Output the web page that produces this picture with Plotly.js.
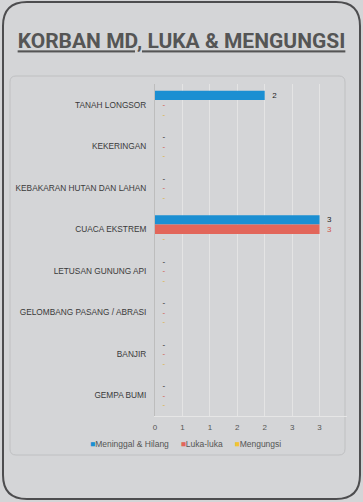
<!DOCTYPE html>
<html><head><meta charset="utf-8">
<script src="https://cdn.plot.ly/plotly-3.0.1.min.js"></script>
<style>html,body{margin:0;padding:0;background:#d4d5d7;overflow:hidden}#chart{width:363px;height:502px}</style>
</head><body><div id="chart"></div>
<script>
// ---- data ----
const categories = ["TANAH LONGSOR","KEKERINGAN","KEBAKARAN HUTAN DAN LAHAN","CUACA EKSTREM","LETUSAN GUNUNG API","GELOMBANG PASANG / ABRASI","BANJIR","GEMPA BUMI"];
const seriesNames = ["Meninggal & Hilang","Luka-luka","Mengungsi"];
const meninggalHilang = [2,0,0,3,0,0,0,0];
const lukaLuka = [0,0,0,3,0,0,0,0];
const mengungsi = [0,0,0,0,0,0,0,0];
const xTickVals = [0,0.5,1,1.5,2,2.5,3,3.5];
const xTickText = ["0","1","1","2","2","3","3",""];
const chartTitle = "KORBAN MD, LUKA & MENGUNGSI";

// ---- styles ----
const seriesColors = ["#1b8fd2","#e2665a","#f2c233"];
const labelColors = ["#222222","#d0564a","#dcb03c"];
const baseFont = 'Arial, "Liberation Sans", sans-serif';
const W = 363, H = 502;
const M = {l:155, r:16, t:84, b:86};
const PW = W - M.l - M.r, PH = H - M.t - M.b;
const px = x => (x - M.l) / PW;
const py = y => (H - M.b - y) / PH;

function roundRect(x0,y0,x1,y1,r){
  const P = (x,y) => px(x).toFixed(5)+','+py(y).toFixed(5);
  return 'M'+P(x0+r,y0)+' L'+P(x1-r,y0)+' Q'+P(x1,y0)+' '+P(x1,y0+r)+
         ' L'+P(x1,y1-r)+' Q'+P(x1,y1)+' '+P(x1-r,y1)+
         ' L'+P(x0+r,y1)+' Q'+P(x0,y1)+' '+P(x0,y1-r)+
         ' L'+P(x0,y0+r)+' Q'+P(x0,y0)+' '+P(x0+r,y0)+' Z';
}

const seriesValues = [meninggalHilang, lukaLuka, mengungsi];
const traces = seriesValues.map((vals,i) => ({
  type:'bar', orientation:'h', name: seriesNames[i],
  y: categories, x: vals,
  marker:{color: seriesColors[i], line:{width:0}},
  text: vals.map(v => '\u00a0\u00a0' + (v === 0 ? '-' : String(v))),
  textposition:'outside', constraintext:'none', cliponaxis:false,
  textfont:{family:baseFont, size:8, color: labelColors[i]},
  hoverinfo:'skip', showlegend:false
}));

const legendText = seriesNames.map((n,i) =>
  '<span style="color:'+seriesColors[i]+'">\u25A0</span>' + n).join('\u00a0\u00a0\u00a0\u00a0\u00a0');

const layout = {
  width:W, height:H, margin:M,
  paper_bgcolor:'#d4d5d7', plot_bgcolor:'rgba(0,0,0,0)',
  font:{family:baseFont, size:8, color:'#333'},
  title:{text:'<u>'+chartTitle+'</u>', x:0.5, xref:'container', xanchor:'center',
         y:1-41/H, yref:'container', yanchor:'middle',
         font:{family:'Roboto, sans-serif', size:21, weight:'bold', color:'#555555'}},
  barmode:'group', bargap:0.33, bargroupgap:0,
  xaxis:{range:[0,3.5], tickvals:xTickVals, ticktext:xTickText, showgrid:true, gridcolor:'#e4e4e4', gridwidth:1,
         zeroline:false, showline:true, linecolor:'#e6e6e6', linewidth:1, ticks:'', ticklabelstandoff:3,
         tickfont:{size:8, color:'#555'}, fixedrange:true},
  yaxis:{type:'category', autorange:'reversed', showgrid:false, zeroline:false, showline:true, linecolor:'#bdbdbd',
         ticks:'', ticklabelstandoff:6, tickfont:{size:8.3, color:'#3a3a3a'}, fixedrange:true},
  showlegend:false,
  annotations:[{xref:'paper', yref:'paper', x:px(185), y:py(444), xanchor:'center', yanchor:'middle',
    showarrow:false, text:legendText, font:{size:8.5, color:'#555'}}],
  shapes:[
    {type:'path', xref:'paper', yref:'paper', layer:'below', path:roundRect(10,76,345,455,6),
     line:{color:'#bfc0c2', width:1}, fillcolor:'rgba(0,0,0,0)'},
    {type:'path', xref:'paper', yref:'paper', layer:'above', path:roundRect(3,2,360,499,24),
     line:{color:'#4d4d4f', width:2}, fillcolor:'rgba(0,0,0,0)'}
  ]
};

Plotly.newPlot('chart', traces, layout, {staticPlot:true, displayModeBar:false});
</script>
</body></html>
